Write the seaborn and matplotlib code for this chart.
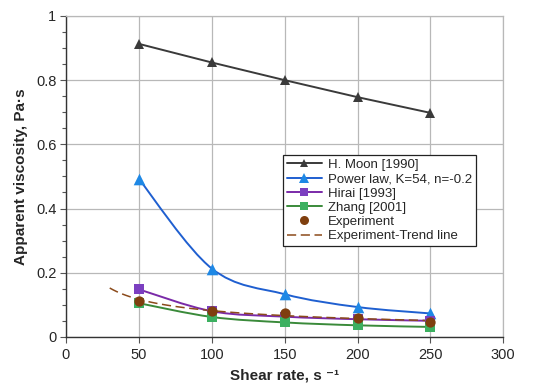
import numpy as np
import matplotlib
matplotlib.use("Agg")
import matplotlib.pyplot as plt
from matplotlib.path import Path
from matplotlib.patches import PathPatch
from matplotlib.lines import Line2D
from matplotlib.ticker import MultipleLocator, FuncFormatter
import seaborn as sns

# data
shear = [50, 100, 150, 200, 250]
moon = [0.913, 0.855, 0.800, 0.747, 0.698]
power_law = [0.492, 0.213, 0.133, 0.093, 0.073]
hirai = [0.148, 0.080, 0.063, 0.055, 0.050]
zhang = [0.105, 0.062, 0.045, 0.036, 0.031]
experiment = [0.113, 0.082, 0.073, 0.058, 0.047]
trend_range = [30, 250]

sns.set_style("whitegrid")
plt.rcParams['font.family'] = ['Liberation Sans', 'DejaVu Sans']

fig, ax = plt.subplots(figsize=(5.5, 3.89), dpi=100)
fig.subplots_adjust(left=0.12, right=0.915, top=0.959, bottom=0.134)


def smooth_path(x, y):
    # Excel-like smoothed line: cubic Bezier through the points
    x = np.asarray(x, float)
    y = np.asarray(y, float)
    verts = [(x[0], y[0])]
    codes = [Path.MOVETO]
    n = len(x)
    for i in range(n - 1):
        x0, y0 = (x[i - 1], y[i - 1]) if i > 0 else (x[i], y[i])
        x3, y3 = (x[i + 2], y[i + 2]) if i + 2 < n else (x[i + 1], y[i + 1])
        c1 = (x[i] + (x[i + 1] - x0) / 6, y[i] + (y[i + 1] - y0) / 6)
        c2 = (x[i + 1] - (x3 - x[i]) / 6, y[i + 1] - (y3 - y[i]) / 6)
        verts += [c1, c2, (x[i + 1], y[i + 1])]
        codes += [Path.CURVE4] * 3
    return Path(verts, codes)


# H. Moon straight line
sns.lineplot(x=shear, y=moon, color="#3a3a3a", marker="^", markersize=7,
             markeredgewidth=0, linewidth=1.4, ax=ax)

smoothed = [
    (power_law, "#1f5fd0", "#1e88e5", "^", 70),
    (hirai, "#7a2aa8", "#7b3fc0", "s", 45),
    (zhang, "#3a8a3a", "#3cb060", "s", 45),
]
for vals, lc, mc, mk, sz in smoothed:
    ax.add_patch(PathPatch(smooth_path(shear, vals), facecolor="none",
                           edgecolor=lc, linewidth=1.4, zorder=3))
    sns.scatterplot(x=shear, y=vals, color=mc, marker=mk, s=sz,
                    linewidth=0, zorder=4, ax=ax)

# trend line (power fit of the experiment points)
b, a = np.polyfit(np.log(shear), np.log(experiment), 1)
xt = np.linspace(trend_range[0], trend_range[1], 100)
sns.lineplot(x=xt, y=np.exp(a) * xt ** b, color="#8b4a1a", linestyle=(0, (6, 3)),
             linewidth=1.1, ax=ax, zorder=3)
sns.scatterplot(x=shear, y=experiment, color="#7f3f0f", s=55, linewidth=0,
                zorder=5, ax=ax)

ax.set_xlim(0, 300)
ax.set_ylim(0, 1)
ax.xaxis.set_major_locator(MultipleLocator(50))
ax.yaxis.set_major_locator(MultipleLocator(0.2))
ax.yaxis.set_minor_locator(MultipleLocator(0.05))
ax.yaxis.set_major_formatter(FuncFormatter(lambda v, p: f"{v:g}"))
ax.grid(True, which="major", color="#b8b8b8", linewidth=0.9)
ax.grid(False, which="minor")
ax.tick_params(axis="both", which="major", direction="out", length=4,
               width=0.8, color="#555555", labelsize=10.5, pad=2,
               left=True, bottom=True)
ax.tick_params(axis="x", which="major", pad=4)
ax.tick_params(axis="y", which="major", pad=3)
ax.tick_params(axis="y", which="minor", direction="out", length=3,
               width=0.8, color="#555555", left=True)
for side in ["left", "bottom"]:
    ax.spines[side].set_color("#333333")
    ax.spines[side].set_linewidth(1.0)
for side in ["top", "right"]:
    ax.spines[side].set_color("#b8b8b8")
    ax.spines[side].set_linewidth(0.9)

ax.set_xlabel("Shear rate, s \u207b\u00b9", fontsize=11, fontweight="bold", labelpad=5)
ax.set_ylabel("Apparent viscosity, Pa\u00b7s", fontsize=11, fontweight="bold", labelpad=6)

handles = [
    Line2D([], [], color="#3a3a3a", marker="^", markersize=6, markeredgewidth=0, lw=1.4),
    Line2D([], [], color="#1f5fd0", marker="^", markersize=7, markeredgewidth=0,
           markerfacecolor="#1e88e5", lw=1.4),
    Line2D([], [], color="#7a2aa8", marker="s", markersize=5.5, markeredgewidth=0,
           markerfacecolor="#7b3fc0", lw=1.4),
    Line2D([], [], color="#3a8a3a", marker="s", markersize=5.5, markeredgewidth=0,
           markerfacecolor="#3cb060", lw=1.4),
    Line2D([], [], color="#7f3f0f", marker="o", markersize=6.5, markeredgewidth=0, lw=0),
    Line2D([], [], color="#8b4a1a", linestyle=(0, (6, 3)), lw=1.1),
]
labels = ["H. Moon [1990]", "Power law, K=54, n=-0.2", "Hirai [1993]",
          "Zhang [2001]", "Experiment", "Experiment-Trend line"]
leg = ax.legend(handles, labels, loc="upper left", bbox_to_anchor=(0.497, 0.567),
                fontsize=9.5, frameon=True, fancybox=False, framealpha=1,
                edgecolor="#222222", borderpad=0.3, labelspacing=0.15,
                handlelength=2.6, handletextpad=0.5, borderaxespad=0)
leg.get_frame().set_linewidth(0.9)

fig.savefig("out.png", dpi=100)
